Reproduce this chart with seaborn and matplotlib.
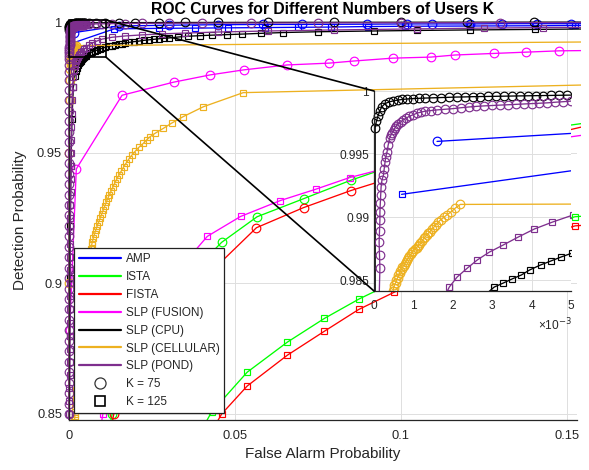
import matplotlib
matplotlib.use("Agg")
import matplotlib.pyplot as plt
import seaborn as sns
from matplotlib.lines import Line2D
from matplotlib.patches import Rectangle, ConnectionPatch

sns.set_theme(style="white")
plt.rcParams["font.family"] = ["Liberation Sans", "DejaVu Sans"]

# ---------------- data ----------------
algorithms = ["AMP", "ISTA", "FISTA", "SLP (FUSION)", "SLP (CPU)", "SLP (CELLULAR)", "SLP (POND)"]
algo_colors = ["#0000ff", "#00ff00", "#ff0000", "#ff00ff", "#000000", "#edb120", "#7e2f8e"]
k_labels = ["K = 75", "K = 125"]

amp75_x = [0.0016, 0.015, 0.03, 0.045, 0.0586, 0.0703, 0.0899, 0.1018, 0.1094, 0.121, 0.1304, 0.141, 0.1514, 1.0]
amp75_y = [0.9960, 0.9985, 0.9988, 0.9990, 0.9991, 0.9991, 0.9992, 0.9993, 0.9993, 0.9993, 0.9994, 0.9994, 0.9994, 1.0]
amp125_x = [0.0007, 0.0136, 0.027, 0.038, 0.048, 0.059, 0.069, 0.079, 0.090, 0.1013, 0.121, 0.1405, 0.1525, 1.0]
amp125_y = [0.9918, 0.9974, 0.9976, 0.9977, 0.9978, 0.9979, 0.9980, 0.9981, 0.9983, 0.9984, 0.9985, 0.9986, 0.9987, 1.0]

ista75_x = [0.005, 0.013, 0.020, 0.028, 0.037, 0.046, 0.0567, 0.0707, 0.085, 0.100, 0.115, 0.130, 0.145, 0.165, 1.0]
ista75_y = [0.80, 0.85, 0.870, 0.888, 0.904, 0.9157, 0.9255, 0.9324, 0.9395, 0.946, 0.951, 0.9555, 0.9595, 0.963, 1.0]
ista125_x = [0.025, 0.043, 0.0537, 0.0658, 0.077, 0.0874, 0.098, 0.109, 0.120, 0.131, 0.142, 0.1525, 1.0]
ista125_y = [0.81, 0.8508, 0.866, 0.8775, 0.8866, 0.894, 0.9005, 0.9065, 0.912, 0.917, 0.9215, 0.9255, 1.0]

fista75_x = [0.006, 0.0135, 0.021, 0.030, 0.040, 0.0565, 0.0707, 0.0849, 0.100, 0.115, 0.130, 0.145, 0.165, 1.0]
fista75_y = [0.80, 0.85, 0.868, 0.886, 0.901, 0.9213, 0.929, 0.9355, 0.9415, 0.947, 0.952, 0.957, 0.963, 1.0]
fista125_x = [0.028, 0.046, 0.0537, 0.0658, 0.077, 0.0873, 0.098, 0.109, 0.120, 0.131, 0.142, 0.1525, 1.0]
fista125_y = [0.81, 0.85, 0.8607, 0.8725, 0.8817, 0.890, 0.8966, 0.903, 0.9085, 0.9135, 0.918, 0.922, 1.0]

fus75_x = [0.0, 0.0002, 0.0022, 0.016, 0.0315, 0.0426, 0.0526, 0.0658, 0.0785, 0.0858, 0.0976, 0.109, 0.1163, 0.128, 0.1378, 0.1477, 1.0]
fus75_y = [0.80, 0.882, 0.9438, 0.972, 0.977, 0.9798, 0.9817, 0.9836, 0.9843, 0.9851, 0.9862, 0.9866, 0.9874, 0.988, 0.9885, 0.989, 1.0]
fus125_x = [0.004, 0.0102, 0.016, 0.022, 0.0315, 0.0417, 0.0517, 0.0637, 0.0743, 0.0846, 0.100, 0.115, 0.130, 0.145, 0.165, 1.0]
fus125_y = [0.80, 0.85, 0.868, 0.885, 0.903, 0.918, 0.9256, 0.9317, 0.936, 0.9405, 0.9455, 0.949, 0.952, 0.955, 0.9585, 1.0]

cpu75_x = [0.0, 0.00003, 0.00006, 0.0001, 0.00015, 0.0002, 0.00028, 0.00037, 0.00047, 0.0006, 0.00072,
           0.00085, 0.001, 0.00115, 0.0013, 0.0015, 0.0017, 0.0019, 0.0021, 0.0023, 0.0025, 0.0027,
           0.0029, 0.0031, 0.0033, 0.0035, 0.0037, 0.0039, 0.0041, 0.0043, 0.0045, 0.0047, 0.0049,
           0.006, 0.008, 0.011, 0.015, 0.02, 0.027, 0.035, 0.045, 0.06, 0.08, 0.1, 0.12, 0.14, 1.0]
cpu75_y = [0.0, 0.9971, 0.9976, 0.9980, 0.99845, 0.99875, 0.9990, 0.99912, 0.9992, 0.99928, 0.99933,
           0.99937, 0.9994, 0.99942, 0.99944, 0.99946, 0.99948, 0.9995, 0.99952, 0.99953, 0.99955, 0.99956,
           0.99957, 0.99958, 0.99959, 0.9996, 0.99961, 0.99962, 0.99963, 0.99964, 0.99965, 0.99966, 0.99967,
           0.9997, 0.99972, 0.99975, 0.99978, 0.9998, 0.99983, 0.99985, 0.99987, 0.9999, 0.99992, 0.99994, 0.99996, 0.99998, 1.0]
cpu125_x = [0.0, 0.0001, 0.0002, 0.0003, 0.0004, 0.0006, 0.0009, 0.0013, 0.0018, 0.0021, 0.0024, 0.0027,
            0.00305, 0.00328, 0.0035, 0.00374, 0.00395, 0.00423, 0.00448, 0.00475, 0.00503, 0.0055, 0.006,
            0.0065, 0.007, 0.0077, 0.0085, 0.0092, 0.01, 0.011, 0.012, 0.013, 0.014, 0.015, 0.016, 0.017,
            0.018, 0.0195, 0.021, 0.0225, 0.024, 0.0255, 0.027, 0.0285, 0.030, 0.033, 0.036, 0.0395, 0.043,
            0.0476, 0.052, 0.058, 0.0646, 0.075, 0.092, 0.105, 0.121, 0.1405, 0.16, 1.0]
cpu125_y = [0.80, 0.85, 0.88, 0.902, 0.922, 0.945, 0.963, 0.975, 0.9795, 0.9812, 0.9825, 0.9835,
            0.98444, 0.98476, 0.98508, 0.9854, 0.9858, 0.9862, 0.9865, 0.98683, 0.98714, 0.9876, 0.988,
            0.9883, 0.9886, 0.989, 0.9893, 0.9896, 0.99, 0.9904, 0.9907, 0.991, 0.9913, 0.9916, 0.9918, 0.992,
            0.9922, 0.9925, 0.9927, 0.993, 0.9932, 0.9934, 0.9936, 0.9938, 0.9939, 0.9943, 0.9946, 0.9948, 0.995,
            0.9952, 0.9954, 0.9957, 0.996, 0.9963, 0.9966, 0.9968, 0.997, 0.9972, 0.9974, 1.0]

cell75_x = [0.0, 0.00005, 0.0001, 0.0002, 0.0003, 0.0004, 0.00048, 0.0005, 0.00052, 0.00055, 0.00057,
            0.0006, 0.00062, 0.00065, 0.00067, 0.0007, 0.00072, 0.00075, 0.00078, 0.00081, 0.00084,
            0.00087, 0.0009, 0.00094, 0.00097, 0.001, 0.00104, 0.00108, 0.00111, 0.00115, 0.00118,
            0.00122, 0.00126, 0.0013, 0.00134, 0.00138, 0.00142, 0.00147, 0.00152, 0.00157, 0.00163,
            0.0017, 0.00178, 0.00186, 0.00195, 0.00206, 0.00219, 1.0]
cell75_y = [0.80, 0.90, 0.95, 0.97, 0.978, 0.982, 0.9841, 0.98435, 0.9846, 0.9848, 0.985,
            0.9852, 0.9854, 0.98555, 0.9857, 0.98585, 0.986, 0.98615, 0.9863, 0.98645, 0.9866,
            0.98675, 0.9869, 0.98705, 0.9872, 0.98732, 0.98745, 0.98757, 0.98768, 0.9878, 0.9879,
            0.9881, 0.9883, 0.98845, 0.98858, 0.98872, 0.98885, 0.98902, 0.9892, 0.9894, 0.9896,
            0.9898, 0.9900, 0.9902, 0.9904, 0.9907, 0.9910, 1.0]
cell125_x = [0.0005, 0.00150, 0.00157, 0.00165, 0.00172, 0.00180, 0.00187, 0.00195, 0.00202, 0.00210,
             0.00217, 0.00225, 0.00232, 0.00240, 0.00247, 0.00255, 0.00262, 0.00270, 0.00280, 0.00290,
             0.00300, 0.00308, 0.00316, 0.00325, 0.00335, 0.00345, 0.00355, 0.00364, 0.00373, 0.00385,
             0.00396, 0.00408, 0.00420, 0.00430, 0.00442, 0.00455, 0.00467, 0.00480, 0.00495, 0.00510,
             0.00525, 0.00540, 0.00555, 0.00570, 0.00590, 0.00610, 0.00630, 0.00655, 0.00680, 0.00705,
             0.00735, 0.00770, 0.00810, 0.00850, 0.00895, 0.00940, 0.00985, 0.01030, 0.01075, 0.01120,
             0.01170, 0.01220, 0.01275, 0.01330, 0.01385, 0.01445, 0.01510, 0.01575, 0.01645, 0.01720,
             0.01800, 0.01890, 0.01990, 0.02100, 0.02240, 0.02340, 0.02440, 0.02590, 0.02840, 0.03090,
             0.03440, 0.04050, 0.05250, 1.0]
cell125_y = [0.80, 0.8440, 0.8455, 0.8470, 0.8485, 0.8500, 0.8515, 0.8530, 0.8545, 0.8560,
             0.8575, 0.8590, 0.8605, 0.8620, 0.8635, 0.8650, 0.8665, 0.8680, 0.8695, 0.8710,
             0.8725, 0.8740, 0.8755, 0.8770, 0.8785, 0.8800, 0.8815, 0.8830, 0.8845, 0.8860,
             0.8875, 0.8890, 0.8905, 0.8920, 0.8935, 0.8950, 0.8965, 0.8980, 0.8995, 0.9010,
             0.9025, 0.9040, 0.9055, 0.9070, 0.9085, 0.9100, 0.9115, 0.9130, 0.9145, 0.9160,
             0.9175, 0.9190, 0.9205, 0.9220, 0.9235, 0.9250, 0.9265, 0.9280, 0.9295, 0.9310,
             0.9325, 0.9340, 0.9355, 0.9370, 0.9385, 0.9400, 0.9415, 0.9430, 0.9445, 0.9460,
             0.9475, 0.9490, 0.9505, 0.9520, 0.9536, 0.9549, 0.9561, 0.9574, 0.9593, 0.9613,
             0.9638, 0.9676, 0.9730, 1.0]

pond75_x = [0.0, 0.0, 0.0, 0.0, 0.0, 0.0, 0.0, 0.00001, 0.00001, 0.00001, 0.00001, 0.00001,
            0.00002, 0.00002, 0.00002, 0.00002, 0.00003, 0.00003, 0.00003, 0.00003, 0.00004, 0.00004,
            0.00004, 0.00005, 0.00005, 0.00005, 0.00006, 0.00006, 0.00007, 0.00007, 0.00008, 0.00009,
            0.0001, 0.0001, 0.00011, 0.00013, 0.00015, 0.00014, 0.00013, 0.00014, 0.00015, 0.00015,
            0.00016, 0.00017, 0.00018, 0.0002, 0.00024, 0.00026, 0.00028, 0.0003, 0.00033, 0.00036,
            0.0004, 0.00043, 0.00046, 0.0005, 0.00053, 0.00057, 0.00062, 0.00068, 0.00074, 0.00082,
            0.0009, 0.001, 0.0011, 0.0012, 0.0013, 0.00145, 0.0016, 0.0018, 0.002, 0.0022, 0.0024,
            0.0026, 0.0028, 0.0030, 0.0032, 0.0034, 0.0036, 0.0038, 0.0040, 0.0042, 0.0044, 0.0046,
            0.0048, 0.0050, 0.006, 0.008, 0.01, 0.013, 0.017, 0.022, 0.03, 0.04, 0.055, 0.075, 0.1,
            0.13, 0.16, 1.0]
pond75_y = [0.0, 0.850, 0.854, 0.858, 0.862, 0.866, 0.870, 0.874, 0.878, 0.882, 0.886, 0.890,
            0.894, 0.898, 0.902, 0.906, 0.910, 0.914, 0.918, 0.922, 0.926, 0.930,
            0.934, 0.938, 0.942, 0.946, 0.950, 0.954, 0.958, 0.962, 0.966, 0.970,
            0.974, 0.978, 0.981, 0.9835, 0.98595, 0.98695, 0.988, 0.9889, 0.98976, 0.9904,
            0.99111, 0.99175, 0.99238, 0.9929, 0.99333, 0.99385, 0.99437, 0.99478, 0.99516, 0.99572,
            0.99627, 0.9965, 0.9967, 0.9969, 0.99706, 0.99725, 0.9974, 0.99755, 0.9977, 0.99785,
            0.998, 0.99812, 0.99825, 0.99833, 0.9984, 0.99845, 0.9985, 0.99855, 0.9986, 0.99867, 0.99873,
            0.99878, 0.99882, 0.99885, 0.99888, 0.99891, 0.99894, 0.99897, 0.999, 0.99903, 0.99906, 0.99911,
            0.99915, 0.9992, 0.99925, 0.9993, 0.99935, 0.9994, 0.99945, 0.9995, 0.99955, 0.9996, 0.99965, 0.9997, 0.99975,
            0.9998, 0.99982, 1.0]
pond125_x = [0.0, 0.0001, 0.00012, 0.00014, 0.00016, 0.00018, 0.0002, 0.00022, 0.00024, 0.00026, 0.00028,
             0.0003, 0.00032, 0.00034, 0.00036, 0.00038, 0.0004, 0.00043, 0.00046, 0.0005, 0.00055,
             0.0006, 0.00066, 0.00073, 0.00082, 0.00093, 0.0011, 0.0013, 0.0015, 0.0017, 0.00191,
             0.00211, 0.00237, 0.00262, 0.00293, 0.00328, 0.00366, 0.00407, 0.00453, 0.00505, 0.006,
             0.007, 0.0085, 0.01, 0.013, 0.017, 0.022, 0.028, 0.035, 0.045, 0.06, 0.08, 0.105, 0.125,
             0.143, 0.16, 1.0]
pond125_y = [0.80, 0.85, 0.855, 0.86, 0.865, 0.87, 0.875, 0.88, 0.885, 0.89, 0.895,
             0.90, 0.905, 0.91, 0.915, 0.92, 0.925, 0.93, 0.935, 0.94, 0.945,
             0.95, 0.955, 0.96, 0.965, 0.97, 0.975, 0.979, 0.9815, 0.9831, 0.98444,
             0.98524, 0.98595, 0.98659, 0.98722, 0.98778, 0.98841, 0.98905, 0.9896, 0.99016, 0.9912,
             0.992, 0.9928, 0.9935, 0.9942, 0.9947, 0.9951, 0.9955, 0.9958, 0.9962, 0.9966, 0.997, 0.9974, 0.9977,
             0.9979, 0.998, 1.0]

curves = [
    (amp75_x, amp75_y, 0, 0), (amp125_x, amp125_y, 0, 1),
    (ista75_x, ista75_y, 1, 0), (ista125_x, ista125_y, 1, 1),
    (fista75_x, fista75_y, 2, 0), (fista125_x, fista125_y, 2, 1),
    (fus75_x, fus75_y, 3, 0), (fus125_x, fus125_y, 3, 1),
    (cpu75_x, cpu75_y, 4, 0), (cpu125_x, cpu125_y, 4, 1),
    (cell75_x, cell75_y, 5, 0), (cell125_x, cell125_y, 5, 1),
    (pond75_x, pond75_y, 6, 0), (pond125_x, pond125_y, 6, 1),
]
k_markers = ["o", "s"]
k_msizes = [6.2, 5.0]

# ---------------- figure ----------------
fig = plt.figure(figsize=(5.89, 4.70), dpi=100)
ax = fig.add_axes([69 / 589, 1 - 420 / 470, 508 / 589, 400 / 470])
axins = fig.add_axes([374 / 589, 1 - 291 / 470, 197 / 589, 200 / 470])

axis_col = "#262626"
grid_col = "#dedede"


def draw_curves(a, pad_l, pad_t, pad_r):
    n0 = len(a.lines)
    for xs, ys, ai, ki in curves:
        c = algo_colors[ai]
        sns.lineplot(x=xs, y=ys, ax=a, sort=False, estimator=None, legend=False,
                     color=c, lw=0.95, marker=k_markers[ki], markersize=k_msizes[ki],
                     markerfacecolor="none", markeredgecolor=c, markeredgewidth=0.85)
    # markers sitting on the axis edge are drawn whole, as in the reference
    clip = Rectangle((-pad_l, 0), 1 + pad_l + pad_r, 1 + pad_t, transform=a.transAxes)
    for ln in a.lines[n0:]:
        ln.set_clip_path(clip)


def style_axes(a, tick_size, pad_x, pad_y):
    a.set_facecolor("white")
    a.set_axisbelow(True)
    a.grid(True, color=grid_col, lw=0.7)
    for s in ["top", "right"]:
        a.spines[s].set_visible(False)
    for s in ["left", "bottom"]:
        a.spines[s].set_color(axis_col)
        a.spines[s].set_linewidth(0.9)
    a.tick_params(axis="both", direction="in", length=3.5, width=0.7, colors=axis_col,
                  labelsize=tick_size, labelcolor=axis_col)
    a.tick_params(axis="x", pad=pad_x)
    a.tick_params(axis="y", pad=pad_y)


# main axes
draw_curves(ax, 8 / 508, 6 / 400, 4 / 508)
style_axes(ax, 9.3, 7.0, 5.0)
ax.set_xlim(0, 0.1531)
ax.set_ylim(0.8477, 1.0008)
ax.set_xticks([0, 0.05, 0.1, 0.15])
ax.set_xticklabels(["0", "0.05", "0.1", "0.15"])
ax.set_yticks([0.85, 0.9, 0.95, 1.0])
ax.set_yticklabels(["0.85", "0.9", "0.95", "1"])
ax.set_xlabel("False Alarm Probability", fontsize=11, color=axis_col, labelpad=4)
ax.set_ylabel("Detection Probability", fontsize=11, color=axis_col, labelpad=7)
ax.set_title("ROC Curves for Different Numbers of Users K", fontsize=11.3,
             fontweight="bold", color="#000000", pad=4)

# zoom rectangle on main axes
rect = Rectangle((0, 0.98664), 0.0111, 1.0008 - 0.98664, fill=False,
                 edgecolor="black", lw=1.2, zorder=20, clip_on=False)
ax.add_patch(rect)

# legend
handles = [Line2D([], [], color=c, lw=1.6) for c in algo_colors]
handles += [Line2D([], [], ls="none", marker="o", ms=8, mfc="none", mec="#333333", mew=0.9),
            Line2D([], [], ls="none", marker="s", ms=6.5, mfc="none", mec="black", mew=1.2)]
labels = algorithms + k_labels
leg = ax.legend(handles, labels, loc="lower left", bbox_to_anchor=(0.0098, 0.0175),
                borderaxespad=0, fontsize=8.5, frameon=True, fancybox=False,
                edgecolor="#222222", framealpha=1, handlelength=3.55, handletextpad=0.42,
                borderpad=0.4, labelspacing=0.5)
leg.get_frame().set_linewidth(0.9)
leg.set_zorder(30)

# inset axes
draw_curves(axins, 6 / 197, 4 / 200, 0.0)
style_axes(axins, 8.6, 6.5, 3.5)
axins.set_xlim(0, 0.005)
axins.set_ylim(0.98413, 1.0)
axins.set_xticks([0, 0.001, 0.002, 0.003, 0.004, 0.005])
axins.set_xticklabels(["0", "1", "2", "3", "4", "5"])
axins.set_yticks([0.985, 0.99, 0.995, 1.0])
axins.set_yticklabels(["0.985", "0.99", "0.995", "1"])
axins.text(1.005, -0.17, "\u00d710$^{-3}$", transform=axins.transAxes, ha="right",
           va="center", fontsize=8.6, color=axis_col)

# connector lines
for ya, yb in [(1.0008, 1.0), (0.98664, 0.0)]:
    con = ConnectionPatch(xyA=(0.0111, ya), coordsA=ax.transData,
                          xyB=(0.0, yb), coordsB=axins.transAxes,
                          color="black", lw=1.2)
    fig.add_artist(con)

fig.savefig("out.png", dpi=100)
